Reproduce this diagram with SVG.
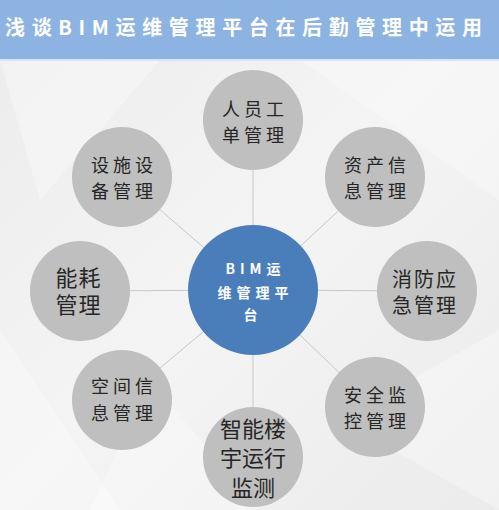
<svg xmlns="http://www.w3.org/2000/svg" width="499" height="510" viewBox="0 0 499 510">
<defs>
<style>
.bar{fill:#8db3e2}
.node{fill:#bfbfbf}
.hub{fill:#4a7ebb}
.lbl{font-family:"Liberation Sans","Noto Sans CJK SC",sans-serif;fill:#262626;text-anchor:middle}
.hubt{font-family:"Noto Sans CJK SC","Noto Sans",sans-serif;fill:#ffffff;font-weight:bold;font-size:14px;letter-spacing:5px;text-anchor:middle}
.edge{stroke:#c8c8c8;stroke-width:1;fill:none}
.tri{fill:#ffffff;opacity:0.3}
</style>
<linearGradient id="bg" x1="0" y1="0" x2="1" y2="1">
<stop offset="0" stop-color="#ececec"/>
<stop offset="0.5" stop-color="#f4f4f4"/>
<stop offset="1" stop-color="#ebebeb"/>
</linearGradient>
</defs>
<rect x="0" y="0" width="499" height="510" fill="url(#bg)"/>
<g id="texture">
<polygon class="tri" points="0,60 160,60 40,200"/>
<polygon class="tri" points="300,60 499,60 499,200"/>
<polygon class="tri" points="0,330 120,510 0,510"/>
<polygon class="tri" points="340,420 499,330 499,510"/>
<polygon class="tri" points="150,380 260,510 90,510" opacity="0.2"/>
</g>
<rect class="bar" x="0" y="0" width="499" height="59"/>
<rect x="0" y="59" width="499" height="2" fill="#d7e5f5"/>
<text x="5" y="35" textLength="477" lengthAdjust="spacing" font-family="'Noto Sans CJK SC','Noto Sans',sans-serif" font-size="20" font-weight="bold" fill="#ffffff">浅谈BIM运维管理平台在后勤管理中运用</text>
<g id="connectors">
<line class="edge" x1="253" y1="290" x2="253" y2="120"/>
<line class="edge" x1="253" y1="290" x2="122" y2="177"/>
<line class="edge" x1="253" y1="290" x2="375" y2="177"/>
<line class="edge" x1="253" y1="290" x2="80" y2="291"/>
<line class="edge" x1="253" y1="290" x2="427" y2="291"/>
<line class="edge" x1="253" y1="290" x2="122" y2="400"/>
<line class="edge" x1="253" y1="290" x2="375" y2="407"/>
<line class="edge" x1="253" y1="290" x2="253" y2="457"/>
</g>
<g id="hub">
<circle class="hub" cx="253" cy="290" r="65"/>
<text class="hubt" x="255.5" y="274">BIM运</text>
<text class="hubt" x="255.5" y="298">维管理平</text>
<text class="hubt" x="253" y="320" letter-spacing="0">台</text>
</g>
<g id="n-renyuan">
<circle class="node" cx="253" cy="120" r="50"/>
<text class="lbl" x="255" y="116" font-size="18" letter-spacing="4">人员工</text>
<text class="lbl" x="255" y="142" font-size="18" letter-spacing="4">单管理</text>
</g>
<g id="n-sheshi">
<circle class="node" cx="122" cy="177" r="50"/>
<text class="lbl" x="124" y="172" font-size="18" letter-spacing="4">设施设</text>
<text class="lbl" x="124" y="198" font-size="18" letter-spacing="4">备管理</text>
</g>
<g id="n-zichan">
<circle class="node" cx="375" cy="177" r="50"/>
<text class="lbl" x="377" y="172" font-size="18" letter-spacing="4">资产信</text>
<text class="lbl" x="377" y="198" font-size="18" letter-spacing="4">息管理</text>
</g>
<g id="n-nenghao">
<circle class="node" cx="80" cy="291" r="50"/>
<text class="lbl" x="78.5" y="286" font-size="22" letter-spacing="1">能耗</text>
<text class="lbl" x="78.5" y="313" font-size="22" letter-spacing="1">管理</text>
</g>
<g id="n-xiaofang">
<circle class="node" cx="427" cy="291" r="50"/>
<text class="lbl" x="425" y="287" font-size="20" letter-spacing="2">消防应</text>
<text class="lbl" x="425" y="313" font-size="20" letter-spacing="2">急管理</text>
</g>
<g id="n-kongjian">
<circle class="node" cx="122" cy="400" r="50"/>
<text class="lbl" x="124" y="393" font-size="18" letter-spacing="4">空间信</text>
<text class="lbl" x="124" y="420" font-size="18" letter-spacing="4">息管理</text>
</g>
<g id="n-anquan">
<circle class="node" cx="375" cy="407" r="50"/>
<text class="lbl" x="377" y="402" font-size="18" letter-spacing="4">安全监</text>
<text class="lbl" x="377" y="428" font-size="18" letter-spacing="4">控管理</text>
</g>
<g id="n-zhineng">
<circle class="node" cx="253" cy="457" r="50"/>
<text class="lbl" x="253" y="437" font-size="22">智能楼</text>
<text class="lbl" x="253" y="466" font-size="22">宇运行</text>
<text class="lbl" x="253" y="496" font-size="22">监测</text>
</g>
</svg>
